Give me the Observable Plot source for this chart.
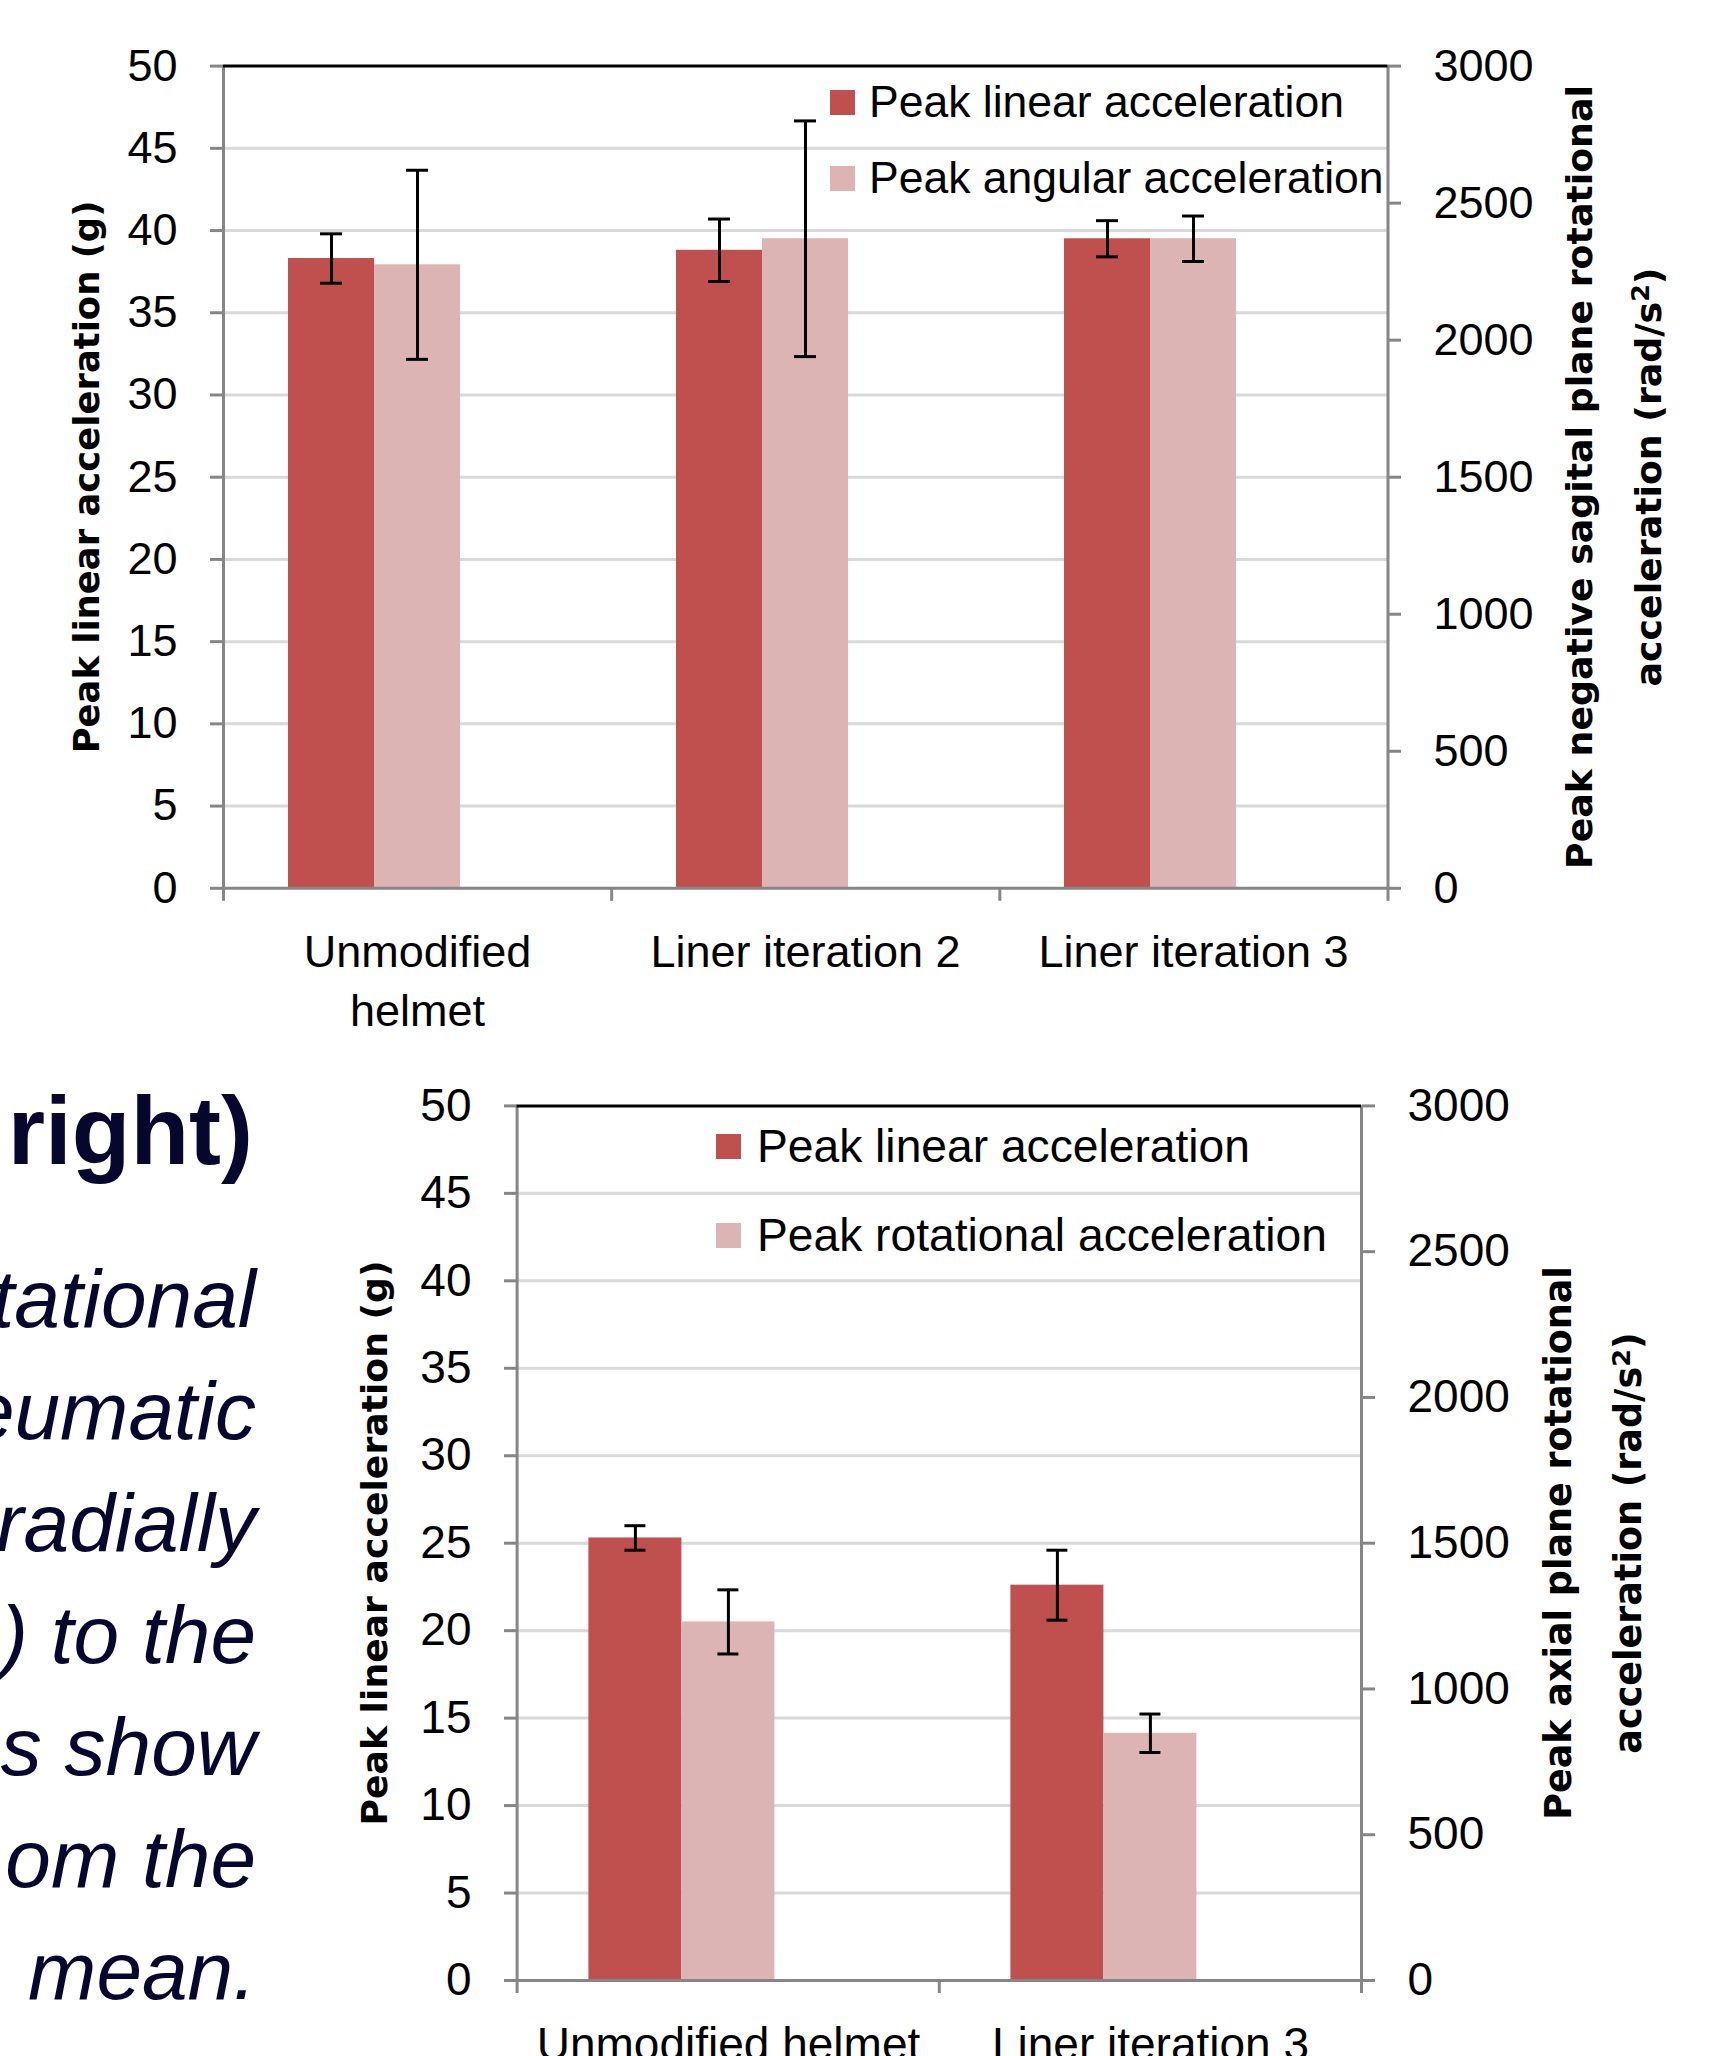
<!DOCTYPE html>
<html><head><meta charset="utf-8">
<script src="https://cdn.jsdelivr.net/npm/d3@7"></script>
<script src="https://cdn.jsdelivr.net/npm/@observablehq/plot@0.6"></script>
<style>
html,body{margin:0;padding:0;background:#fff;overflow:hidden;}
#page{position:relative;width:1710px;height:2056px;overflow:hidden;background:#fff;}
.layer{position:absolute;left:0;}
.title{position:absolute;font-family:"DejaVu Sans",sans-serif;font-weight:bold;color:#000;white-space:nowrap;text-align:center;transform:translate(-50%,-50%) rotate(-90deg);}
.leg{position:absolute;font-family:"Liberation Sans",Arial,sans-serif;white-space:nowrap;transform:translateY(-50%);line-height:1;color:#000;}
.sw{position:absolute;width:25px;height:25px;}
</style></head><body><div id="page"></div>
<script>
// ---------- data ----------
const topCategories = ["Unmodified helmet", "Liner iteration 2", "Liner iteration 3"];
const topLinear = [38.3, 38.8, 39.5];          // g
const topLinearErr = [1.5, 1.9, 1.1];
const topAngular = [2275, 2370, 2370];         // rad/s^2
const topAngularErr = [345, 430, 83];

const bottomCategories = ["Unmodified helmet", "Liner iteration 3"];
const bottomLinear = [25.3, 22.6];             // g
const bottomLinearErr = [0.7, 2.0];
const bottomRotational = [1230, 848];          // rad/s^2
const bottomRotationalErr = [110, 66];

const leftTicks = [0, 5, 10, 15, 20, 25, 30, 35, 40, 45, 50];
const rightTicks = [0, 500, 1000, 1500, 2000, 2500, 3000];
const seriesSlots = ["linear", "rotational", "spare"];

const legendTop = ["Peak linear acceleration", "Peak angular acceleration"];
const legendBottom = ["Peak linear acceleration", "Peak rotational acceleration"];
const titlesTop = {left: "Peak linear acceleration (g)", right: ["Peak negative sagital plane rotational", "acceleration (rad/s²)"]};
const titlesBottom = {left: "Peak linear acceleration (g)", right: ["Peak axial plane rotational", "acceleration (rad/s²)"]};
const sideHeading = "right)";
const sideLines = ["tational", "eumatic", "radially", ") to the", "s show", "om the", "mean."];

const LEFT_MAX = 50, RIGHT_MAX = 3000;
const DARK = "#C0504D", LIGHT = "#DDB4B4", GRID = "#D9D9D9", AXIS = "#868686";

// ---------- helpers ----------
const page = document.getElementById("page");
const k = LEFT_MAX / RIGHT_MAX;

function rows(cats, lin, linErr, rot, rotErr) {
  return cats.flatMap((c, i) => [
    {category: c, slot: "linear", y: lin[i], lo: lin[i] - linErr[i], hi: lin[i] + linErr[i]},
    {category: c, slot: "rotational", y: rot[i] * k, lo: (rot[i] - rotErr[i]) * k, hi: (rot[i] + rotErr[i]) * k}
  ]);
}

function chart(cfg) {
  const {cats, data, top, height, mt, mb, ml, mr, capInset, fontSize, labelFormat, lineHeight, labelPad} = cfg;
  const common = {
    width: 1710, height, marginTop: mt, marginBottom: mb, marginLeft: ml, marginRight: mr,
    style: {background: "transparent", fontFamily: "'Liberation Sans', Arial, sans-serif", overflow: "visible"}
  };
  const main = Plot.plot({
    ...common,
    fx: {domain: cats, padding: 0, axis: null, label: null},
    x: {domain: seriesSlots, paddingInner: 0, paddingOuter: 0.75, axis: null},
    y: {domain: [0, LEFT_MAX], axis: null},
    marks: [
      Plot.ruleY(leftTicks.filter(t => t > 0 && t < LEFT_MAX), {stroke: GRID, strokeWidth: 3}),
      Plot.barY(data.filter(d => d.slot === "linear"), {fx: "category", x: "slot", y: "y", fill: DARK}),
      Plot.barY(data.filter(d => d.slot === "rotational"), {fx: "category", x: "slot", y: "y", fill: LIGHT}),
      Plot.ruleX(data, {fx: "category", x: "slot", y1: "lo", y2: "hi", stroke: "black", strokeWidth: 3}),
      Plot.tickY(data, {fx: "category", x: "slot", y: "lo", stroke: "black", strokeWidth: 3, insetLeft: capInset, insetRight: capInset}),
      Plot.tickY(data, {fx: "category", x: "slot", y: "hi", stroke: "black", strokeWidth: 3, insetLeft: capInset, insetRight: capInset}),
      Plot.axisY(leftTicks, {anchor: "left", tickSize: 13, tickPadding: 33, fontSize, stroke: AXIS, strokeWidth: 3, fill: "black", label: null}),
      Plot.axisY(rightTicks.map(v => v * k), {anchor: "right", tickSize: 13, tickPadding: 33, fontSize, stroke: AXIS, strokeWidth: 3, fill: "black", label: null, tickFormat: v => String(Math.round(v / k))}),
      Plot.axisFx({anchor: "bottom", tickSize: 0, tickPadding: labelPad, fontSize, fill: "black", label: null, tickFormat: labelFormat, lineHeight})
    ]
  });
  const frame = Plot.plot({
    ...common,
    x: {domain: [0, cats.length], axis: null},
    y: {domain: [0, LEFT_MAX], axis: null},
    marks: [
      Plot.ruleY([0], {stroke: AXIS, strokeWidth: 3}),
      Plot.ruleX([0, cats.length], {stroke: AXIS, strokeWidth: 3}),
      Plot.ruleY([LEFT_MAX], {stroke: "black", strokeWidth: 3}),
      Plot.axisX(d3.range(cats.length + 1), {anchor: "bottom", tickSize: 13, tickFormat: () => "", stroke: AXIS, strokeWidth: 3, label: null})
    ]
  });
  for (const svg of [main, frame]) {
    svg.classList.add("layer");
    svg.style.top = top + "px";
    page.appendChild(svg);
  }
}

function legend(labels, sx, tx, centers, size) {
  labels.forEach((lab, i) => {
    const sw = document.createElement("div");
    sw.className = "sw";
    sw.style.left = sx + "px";
    sw.style.top = (centers[i] - 12.5) + "px";
    sw.style.background = i === 0 ? DARK : LIGHT;
    page.appendChild(sw);
    const t = document.createElement("div");
    t.className = "leg";
    t.style.left = tx + "px";
    t.style.top = centers[i] + "px";
    t.style.fontSize = size + "px";
    t.textContent = lab;
    page.appendChild(t);
  });
}

function title(lines, cx, cy, size, lh) {
  const d = document.createElement("div");
  d.className = "title";
  d.style.left = cx + "px";
  d.style.top = cy + "px";
  d.style.fontSize = size + "px";
  d.style.lineHeight = lh + "px";
  d.innerHTML = [].concat(lines).map(s => s.replace("²", "<span style='font-size:0.7em;vertical-align:0.45em'>2</span>")).join("<br>");
  page.appendChild(d);
}

// ---------- charts ----------
chart({
  cats: topCategories,
  data: rows(topCategories, topLinear, topLinearErr, topAngular, topAngularErr),
  top: 0, height: 1060, mt: 65.6, mb: 1060 - 887.8, ml: 223, mr: 1710 - 1387.5,
  capInset: 32, fontSize: 45, lineHeight: 1.31, labelPad: 37,
  labelFormat: d => d === "Unmodified helmet" ? "Unmodified\nhelmet" : d
});
chart({
  cats: bottomCategories,
  data: rows(bottomCategories, bottomLinear, bottomLinearErr, bottomRotational, bottomRotationalErr),
  top: 1040, height: 1016, mt: 65.4, mb: 76, ml: 516.6, mr: 1710 - 1361,
  capInset: 36, fontSize: 46, lineHeight: 1.2, labelPad: 40,
  labelFormat: d => d
});

legend(legendTop, 830, 869, [102, 178], 44.5);
legend(legendBottom, 716, 757, [1146, 1235], 46.2);

title(titlesTop.left, 86.5, 476.7, 35.4, 40);
title(titlesTop.right, 1613.5, 476.7, 36.3, 61);
title(titlesBottom.left, 375, 1542.7, 36.2, 40);
title(titlesBottom.right, 1594, 1542.7, 36.5, 62);

// ---------- side text (cropped poster text) ----------
const ns = "http://www.w3.org/2000/svg";
const side = document.createElementNS(ns, "svg");
side.setAttribute("width", 300); side.setAttribute("height", 2056);
side.style.position = "absolute"; side.style.left = "0px"; side.style.top = "0px";
const mk = (txt, x, y, size, weight, style) => {
  const t = document.createElementNS(ns, "text");
  t.setAttribute("x", x); t.setAttribute("y", y);
  t.setAttribute("text-anchor", "end");
  t.setAttribute("font-family", "'Liberation Sans', Arial, sans-serif");
  t.setAttribute("font-size", size);
  t.setAttribute("font-weight", weight);
  t.setAttribute("font-style", style);
  t.setAttribute("fill", "#06062E");
  t.textContent = txt;
  side.appendChild(t);
};
mk(sideHeading, 253, 1164, 96, "bold", "normal");
sideLines.forEach((s, i) => mk(s, 256, 1327 + 112 * i, 82, "normal", "italic"));
page.appendChild(side);
</script></body></html>
